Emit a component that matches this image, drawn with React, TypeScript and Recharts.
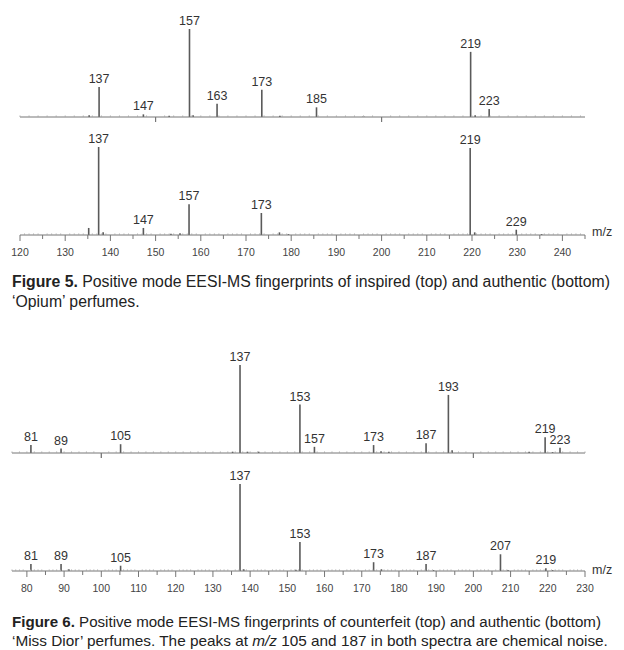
import React from "react";
import { Bar, BarChart, LabelList, XAxis, YAxis } from "recharts";

// Figure 5 – 'Opium', inspired (top) and authentic (bottom)
// peak positions as they sit on the drawn m/z scale, labels are the nominal masses
const opiumTopMz = [135.3, 137.5, 147.3, 153, 157.5, 158.3, 163.6, 173.5, 177.5, 185.6, 196, 219.7, 220.7, 223.8];
const opiumTopInt = [2, 34, 3, 1.5, 100, 2, 15, 31, 1.5, 11, 1, 74, 2, 9];
const opiumTopLabels = ["", "137", "147", "", "157", "", "163", "173", "", "185", "", "219", "", "223"];

const opiumBottomMz = [135.3, 137.5, 138.5, 147.4, 153.5, 155.5, 157.5, 173.5, 177.5, 179.5, 219.7, 220.7, 229.9, 235.5];
const opiumBottomInt = [8, 100, 3, 8, 1.5, 2, 35, 25, 3, 1, 99, 3, 6, 1];
const opiumBottomLabels = ["", "137", "", "147", "", "", "157", "173", "", "", "219", "", "229", ""];

// Figure 6 – 'Miss Dior', counterfeit (top) and authentic (bottom)
const diorTopMz = [81.1, 89.2, 105.2, 135.3, 137.3, 139.3, 142.3, 153.4, 157.3, 173.2, 175.2, 177.3, 187.3, 193.3, 194.3, 215, 219.3, 221.3, 223.3];
const diorTopInt = [9, 5, 10, 1.5, 100, 1.5, 1.5, 55, 7, 9, 2, 1.5, 11, 66, 3, 1.5, 18, 1, 6];
const diorTopLabels = ["81", "89", "105", "", "137", "", "", "153", "157", "173", "", "", "187", "193", "", "", "219", "", "223"];

const diorBottomMz = [81.1, 89.2, 91.3, 105.2, 137.3, 138.3, 152.3, 153.4, 173.2, 175.3, 187.3, 189.3, 207.3, 209.3, 219.5, 221.3];
const diorBottomInt = [8, 8, 2, 6, 99, 2, 1.5, 33, 10, 2, 8, 1, 19, 1, 3, 1];
const diorBottomLabels = ["81", "89", "", "105", "137", "", "", "153", "173", "", "187", "", "207", "", "219", ""];

const opiumDomain: [number, number] = [120, 245];
const diorDomain: [number, number] = [76, 230];
const opiumTopMarks = [150, 200];
const diorTopMarks = [100, 200];

const FONT = "'Liberation Sans', Arial, sans-serif";
const AXIS = "#777";
const PEAK = "#5a5a5a";

function buildRows(mz: number[], ints: number[], labels: string[]) {
  return mz.map((m, i) => ({
    mz: m,
    rel: ints[i],
    label: labels[i] ? labels[i] : undefined
  }));
}

function stepTicks(domain: [number, number], step: number) {
  const out: number[] = [];
  for (let v = domain[0]; v <= domain[1]; v += step) out.push(v);
  return out;
}

function bottomTick(props: any) {
  const { x, y, payload } = props;
  const v = payload.value as number;
  if (v % 10 === 0) {
    return (
      <g>
        <line x1={x} x2={x} y1={y} y2={y + 6} stroke={AXIS} />
        <text x={x} y={y + 21} textAnchor="middle" fontSize={10.5} fill="#444" fontFamily={FONT}>
          {v}
        </text>
      </g>
    );
  }
  if (v % 5 === 0) return <line x1={x} x2={x} y1={y} y2={y + 4} stroke={AXIS} />;
  return <line x1={x} x2={x} y1={y} y2={y - 1.5} stroke="#aaa" />;
}

function makeTopTick(marks: number[]) {
  return (props: any) => {
    const { x, y, payload } = props;
    const v = payload.value as number;
    if (marks.includes(v)) return <line x1={x} x2={x} y1={y} y2={y + 5} stroke={AXIS} />;
    return <line x1={x} x2={x} y1={y} y2={y - 1.5} stroke="#aaa" />;
  };
}

type SpecProps = {
  rows: { mz: number; rel: number; label?: string }[];
  domain: [number, number];
  top: number;
  height: number;
  marginTop: number;
  left: number;
  withScale: boolean;
  marks?: number[];
};

function Spectrum({ rows, domain, top, height, marginTop, left, withScale, marks }: SpecProps) {
  const ticks = withScale ? stepTicks(domain, 1) : stepTicks(domain, 2).concat(marks || []);
  return (
    <div style={{ position: "absolute", left: 0, top }}>
      <BarChart
        width={624}
        height={height}
        data={rows}
        margin={{ top: marginTop, right: 39, left, bottom: 0 }}
        barSize={1.6}
      >
        <XAxis
          dataKey="mz"
          type="number"
          domain={domain}
          allowDataOverflow
          ticks={ticks}
          interval={0}
          tickSize={0}
          tickMargin={0}
          tickLine={false}
          axisLine={{ stroke: AXIS }}
          height={withScale ? 25 : 8}
          tick={withScale ? bottomTick : makeTopTick(marks || [])}
        />
        <YAxis hide domain={[0, 100]} />
        <Bar dataKey="rel" fill={PEAK} isAnimationActive={false}>
          <LabelList dataKey="label" position="top" offset={4} fontSize={12.5} fill="#333" fontFamily={FONT} />
        </Bar>
      </BarChart>
    </div>
  );
}

const capStyle: React.CSSProperties = {
  position: "absolute",
  left: 12,
  fontFamily: FONT,
  fontSize: 15.8,
  color: "#222",
  whiteSpace: "nowrap",
  lineHeight: "20px"
};

const mzStyle: React.CSSProperties = {
  position: "absolute",
  left: 592,
  fontFamily: FONT,
  fontSize: 12.5,
  color: "#333",
  lineHeight: "14px"
};

export default function App() {
  return (
    <div style={{ position: "absolute", left: 0, top: 0, width: 624, height: 650, background: "#fff", overflow: "hidden" }}>
      <Spectrum rows={buildRows(opiumTopMz, opiumTopInt, opiumTopLabels)} domain={opiumDomain} top={0} height={125} marginTop={29} left={20} withScale={false} marks={opiumTopMarks} />
      <Spectrum rows={buildRows(opiumBottomMz, opiumBottomInt, opiumBottomLabels)} domain={opiumDomain} top={125} height={135} marginTop={22} left={20} withScale />
      <div style={{ ...mzStyle, top: 225 }}>m/z</div>
      <div style={{ ...capStyle, top: 272 }}>
        <b>Figure 5.</b> Positive mode EESI-MS fingerprints of inspired (top) and authentic (bottom)
      </div>
      <div style={{ ...capStyle, top: 292 }}>‘Opium’ perfumes.</div>

      <Spectrum rows={buildRows(diorTopMz, diorTopInt, diorTopLabels)} domain={diorDomain} top={340} height={121} marginTop={25} left={12} withScale={false} marks={diorTopMarks} />
      <Spectrum rows={buildRows(diorBottomMz, diorBottomInt, diorBottomLabels)} domain={diorDomain} top={460} height={136} marginTop={23} left={12} withScale />
      <div style={{ ...mzStyle, top: 563 }}>m/z</div>
      <div style={{ ...capStyle, top: 612, fontSize: 15.1 }}>
        <b>Figure 6.</b> Positive mode EESI-MS fingerprints of counterfeit (top) and authentic (bottom)
      </div>
      <div style={{ ...capStyle, top: 631, fontSize: 15.35 }}>
        ‘Miss Dior’ perfumes. The peaks at <i>m/z</i> 105 and 187 in both spectra are chemical noise.
      </div>
    </div>
  );
}
